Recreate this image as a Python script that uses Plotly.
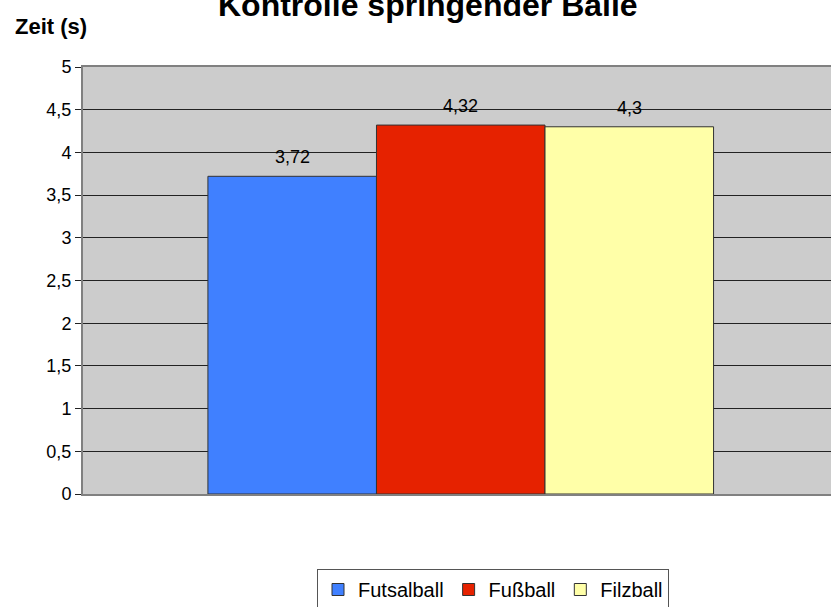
import plotly.graph_objects as go

categories = ["Kontrolle"]
series_names = ["Futsalball", "Fußball", "Filzball"]
series_values = [3.72, 4.32, 4.30]
series_labels = ["3,72", "4,32", "4,3"]
series_colors = ["#4080FF", "#E62200", "#FFFFA8"]
y_ticks = [0, 0.5, 1, 1.5, 2, 2.5, 3, 3.5, 4, 4.5, 5]

FONT = "Liberation Sans, Arial"
BARGAP = 0.324

fig = go.Figure()
for name, val, col in zip(series_names, series_values, series_colors):
    fig.add_trace(go.Bar(
        x=categories, y=[val], name=name,
        marker=dict(color=col, line=dict(color="#333333", width=1)),
    ))

# value labels above each bar (position follows the grouped-bar layout)
n = len(series_names)
w = (1 - BARGAP) / n
label_annotations = []
for k, (val, lab) in enumerate(zip(series_values, series_labels)):
    label_annotations.append(dict(
        x=-(1 - BARGAP) / 2 + (k + 0.5) * w, y=val, xref="x", yref="y",
        text=lab, showarrow=False, xanchor="center", yanchor="bottom", yshift=7,
        font=dict(family=FONT, size=18, color="black"),
    ))

fig.update_layout(
    width=831, height=607,
    margin=dict(l=83, r=0, t=67, b=113, autoexpand=False),
    paper_bgcolor="white", plot_bgcolor="#CCCCCC",
    barmode="group", bargap=BARGAP, bargroupgap=0,
    separators=",.",
    font=dict(family=FONT, size=16, color="black"),
    showlegend=True,
    legend=dict(orientation="h", x=(493 - 83) / 748, xanchor="center",
                y=(494 - 569) / 427, yanchor="top",
                bordercolor="#555555", borderwidth=1, bgcolor="white",
                font=dict(family=FONT, size=20), itemwidth=30, traceorder="normal"),
    xaxis=dict(range=[-0.505, 0.495], showticklabels=False, showgrid=False,
               showline=True, linecolor="#808080", linewidth=2, mirror=True, ticks=""),
    yaxis=dict(range=[0, 5], tickvals=y_ticks, tickformat=".1~f",
               showgrid=True, gridcolor="#222222", gridwidth=1,
               showline=True, linecolor="#808080", linewidth=2, mirror=True,
               ticks="outside", ticklen=6, tickcolor="#222222",
               zeroline=False, tickfont=dict(family=FONT, size=18)),
    annotations=label_annotations + [
        dict(text="<b>Kontrolle springender Bälle</b>", xref="paper", yref="paper",
             x=(428 - 83) / 748, y=1.0, xanchor="center", yanchor="middle", yshift=62,
             showarrow=False, font=dict(family=FONT, size=32)),
        dict(text="<b>Zeit (s)</b>", xref="paper", yref="paper",
             x=(13 - 83) / 748, y=1.0, xanchor="left", yanchor="middle", yshift=41,
             showarrow=False, font=dict(family=FONT, size=22)),
    ],
)

fig.write_html("out.html", config={"displayModeBar": False},
               post_script="document.body.style.margin='0';")
